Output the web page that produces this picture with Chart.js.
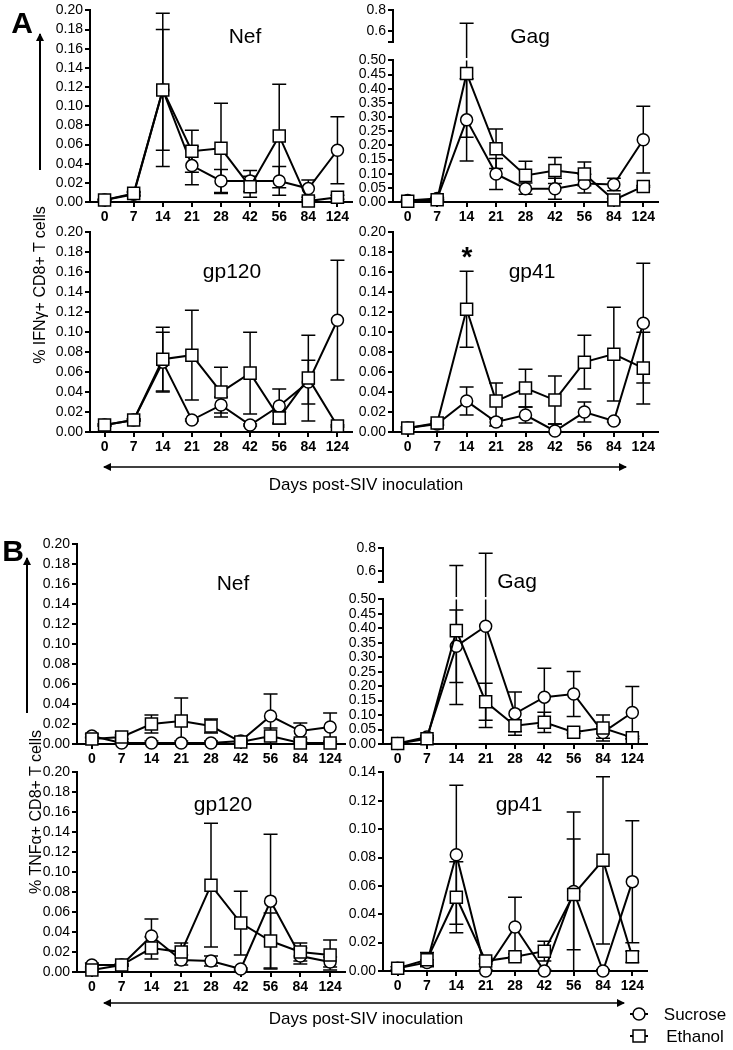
<!DOCTYPE html>
<html>
<head>
<meta charset="utf-8">
<script src="https://cdn.jsdelivr.net/npm/chart.js@4"></script>
<style>
  body { margin: 0; background: #fff; }
  #fig { position: relative; width: 733px; height: 1050px; overflow: hidden; font-family: 'Liberation Sans', Arial, sans-serif; color: #000; }
  .t { position: absolute; transform: translate(-50%, -50%); line-height: 1; white-space: nowrap; }
  .title { font-size: 21px; }
  .rot { transform: translate(-50%, -50%) rotate(-90deg); font-size: 16px; }
  svg { position: absolute; left: 0; top: 0; }
</style>
</head>
<body>
<div id="fig">
  <svg width="733" height="1050" id="marks">
    <defs>
      <marker id="head" markerWidth="8" markerHeight="8" refX="7" refY="4" orient="auto" markerUnits="userSpaceOnUse">
        <path d="M0,0 L8,4 L0,8 z" fill="#000"/>
      </marker>
    </defs>
    <!-- vertical arrows -->
    <line x1="40" y1="170" x2="40" y2="34" stroke="#000" stroke-width="2" marker-end="url(#head)"/>
    <line x1="27" y1="713" x2="27" y2="558" stroke="#000" stroke-width="2" marker-end="url(#head)"/>
    <!-- horizontal arrows -->
    <line x1="365" y1="467" x2="626" y2="467" stroke="#000" stroke-width="1.5" marker-end="url(#head)"/>
    <line x1="365" y1="467" x2="104" y2="467" stroke="#000" stroke-width="1.5" marker-end="url(#head)"/>
    <line x1="365" y1="1003" x2="624" y2="1003" stroke="#000" stroke-width="1.5" marker-end="url(#head)"/>
    <line x1="365" y1="1003" x2="104" y2="1003" stroke="#000" stroke-width="1.5" marker-end="url(#head)"/>
    <!-- legend symbols -->
    <line x1="630" y1="1014" x2="648" y2="1014" stroke="#000" stroke-width="2"/>
    <circle cx="639" cy="1014" r="6" fill="#fff" stroke="#000" stroke-width="1.5"/>
    <line x1="630" y1="1036" x2="648" y2="1036" stroke="#000" stroke-width="2"/>
    <rect x="633" y="1030" width="12" height="12" fill="#fff" stroke="#000" stroke-width="1.5"/>
  </svg>

  <div class="t" style="left:22px;top:23px;font-size:30px;font-weight:bold;">A</div>
  <div class="t" style="left:13px;top:551px;font-size:30px;font-weight:bold;">B</div>
  <div class="t rot" style="left:40px;top:285px;">% IFNγ+ CD8+ T cells</div>
  <div class="t rot" style="left:36px;top:812px;">% TNFα+ CD8+ T cells</div>

  <div class="t title" style="left:245px;top:35px;">Nef</div>
  <div class="t title" style="left:530px;top:35px;">Gag</div>
  <div class="t title" style="left:232px;top:270px;">gp120</div>
  <div class="t title" style="left:532px;top:270px;">gp41</div>
  <div class="t" style="left:467px;top:257px;font-size:28px;font-weight:bold;">*</div>
  <div class="t title" style="left:233px;top:582px;">Nef</div>
  <div class="t title" style="left:517px;top:580px;">Gag</div>
  <div class="t title" style="left:223px;top:803px;">gp120</div>
  <div class="t title" style="left:519px;top:803px;">gp41</div>

  <div class="t" style="left:366px;top:484px;font-size:17px;">Days post-SIV inoculation</div>
  <div class="t" style="left:366px;top:1018px;font-size:17px;">Days post-SIV inoculation</div>
  <div class="t" style="left:695px;top:1014px;font-size:17px;">Sucrose</div>
  <div class="t" style="left:695px;top:1036px;font-size:17px;">Ethanol</div>
</div>

<script>
// days post-SIV inoculation
const days = ['0', '7', '14', '21', '28', '42', '56', '84', '124'];

// A: IFNγ+ CD8+ T cells (mean and SEM)
const ifnNefSucrose     = [0.002, 0.008, 0.117, 0.038, 0.022, 0.022, 0.022, 0.014, 0.054];
const ifnNefSucroseErr  = [0.001, 0.002, 0.063, 0.020, 0.012, 0.011, 0.015, 0.009, 0.035];
const ifnNefEthanol     = [0.002, 0.009, 0.117, 0.053, 0.056, 0.016, 0.069, 0.001, 0.005];
const ifnNefEthanolErr  = [0.001, 0.002, 0.080, 0.022, 0.047, 0.011, 0.054, 0.001, 0.002];

const ifnGagSucrose     = [0.005, 0.012, 0.290, 0.099, 0.047, 0.047, 0.065, 0.062, 0.220];
const ifnGagSucroseErr  = [0.002, 0.004, 0.145, 0.055, 0.020, 0.037, 0.033, 0.022, 0.118];
const ifnGagEthanol     = [0.003, 0.008, 0.454, 0.188, 0.094, 0.111, 0.099, 0.007, 0.055];
const ifnGagEthanolErr  = [0.002, 0.003, 0.225, 0.070, 0.050, 0.046, 0.042, 0.005, 0.003];

const ifnGp120Sucrose    = [0.007, 0.012, 0.070, 0.012, 0.027, 0.007, 0.026, 0.050, 0.112];
const ifnGp120SucroseErr = [0.001, 0.001, 0.030, 0.001, 0.008, 0.001, 0.017, 0.022, 0.060];
const ifnGp120Ethanol    = [0.007, 0.012, 0.073, 0.077, 0.040, 0.059, 0.014, 0.054, 0.006];
const ifnGp120EthanolErr = [0.001, 0.001, 0.032, 0.045, 0.025, 0.041, 0.006, 0.043, 0.001];

const ifnGp41Sucrose    = [0.004, 0.008, 0.031, 0.010, 0.017, 0.001, 0.020, 0.011, 0.109];
const ifnGp41SucroseErr = [0.001, 0.001, 0.014, 0.004, 0.008, 0.007, 0.010, 0.001, 0.060];
const ifnGp41Ethanol    = [0.004, 0.009, 0.123, 0.031, 0.044, 0.032, 0.070, 0.078, 0.064];
const ifnGp41EthanolErr = [0.001, 0.002, 0.038, 0.018, 0.019, 0.024, 0.027, 0.047, 0.036];

// B: TNFα+ CD8+ T cells
const tnfNefSucrose     = [0.008, 0.001, 0.001, 0.001, 0.001, 0.003, 0.028, 0.013, 0.017];
const tnfNefSucroseErr  = [0.002, 0.001, 0.002, 0.002, 0.002, 0.002, 0.022, 0.008, 0.014];
const tnfNefEthanol     = [0.005, 0.007, 0.020, 0.023, 0.018, 0.002, 0.008, 0.001, 0.001];
const tnfNefEthanolErr  = [0.002, 0.002, 0.009, 0.023, 0.007, 0.001, 0.008, 0.001, 0.001];

const tnfGagSucrose     = [0.002, 0.024, 0.338, 0.407, 0.105, 0.162, 0.173, 0.040, 0.109];
const tnfGagSucroseErr  = [0.001, 0.005, 0.125, 0.350, 0.075, 0.100, 0.078, 0.020, 0.090];
const tnfGagEthanol     = [0.002, 0.018, 0.392, 0.146, 0.063, 0.075, 0.041, 0.055, 0.022];
const tnfGagEthanolErr  = [0.001, 0.004, 0.255, 0.064, 0.020, 0.035, 0.005, 0.045, 0.005];

const tnfGp120Sucrose    = [0.007, 0.007, 0.036, 0.012, 0.011, 0.003, 0.071, 0.016, 0.010];
const tnfGp120SucroseErr = [0.002, 0.001, 0.017, 0.005, 0.005, 0.001, 0.067, 0.008, 0.005];
const tnfGp120Ethanol    = [0.002, 0.007, 0.024, 0.020, 0.087, 0.049, 0.031, 0.020, 0.017];
const tnfGp120EthanolErr = [0.001, 0.001, 0.011, 0.009, 0.062, 0.032, 0.028, 0.009, 0.015];

const tnfGp41Sucrose    = [0.002, 0.006, 0.082, 0.000, 0.031, 0.000, 0.056, 0.000, 0.063];
const tnfGp41SucroseErr = [0.001, 0.002, 0.049, 0.001, 0.021, 0.001, 0.056, 0.001, 0.043];
const tnfGp41Ethanol    = [0.002, 0.008, 0.052, 0.007, 0.010, 0.014, 0.054, 0.078, 0.010];
const tnfGp41EthanolErr = [0.001, 0.005, 0.025, 0.002, 0.002, 0.007, 0.039, 0.059, 0.004];

Chart.defaults.font.family = "'Liberation Sans', Arial, sans-serif";
Chart.defaults.color = '#000';

// draws mean ± SEM bars through the chart's own scales
const errorBars = {
    id: 'errorBars',
    beforeDatasetsDraw(chart, args, opts) {
        const { ctx, chartArea: a, scales: { x, y } } = chart;
        ctx.save();
        ctx.strokeStyle = '#000';
        ctx.lineWidth = 1.5;
        chart.data.datasets.forEach(ds => {
            if (!ds.errors) return;
            ds.data.forEach((v, i) => {
                const e = ds.errors[i];
                if (!e) return;
                const hi = v + e, lo = v - e;
                if (hi < y.min || lo > y.max) return;
                const px = x.getPixelForValue(i);
                const yTop = y.getPixelForValue(Math.min(hi, y.max));
                let yBot = y.getPixelForValue(Math.max(lo, y.min));
                if (lo < y.min && opts.extendBelow) yBot = a.bottom + opts.extendBelow;
                ctx.beginPath();
                ctx.moveTo(px, yTop); ctx.lineTo(px, yBot);
                if (hi <= y.max) { ctx.moveTo(px - 7, yTop); ctx.lineTo(px + 7, yTop); }
                if (lo >= y.min) { ctx.moveTo(px - 7, yBot); ctx.lineTo(px + 7, yBot); }
                ctx.stroke();
            });
        });
        ctx.restore();
    }
};

const fig = document.getElementById('fig');

// one panel = one Chart; plot area is placed at the given page coordinates
function panel(o) {
    const YW = 52, PT = o.padTop || 10, PR = 14;
    const XH = o.showX ? 26 : 0, PB = o.gapBelow || 0;
    const w = YW + (o.right - o.left) + PR;
    const h = PT + (o.bottom - o.top) + XH + PB;
    const c = document.createElement('canvas');
    c.width = w; c.height = h;
    c.style.cssText = `position:absolute;left:${o.left - YW}px;top:${o.top - PT}px;width:${w}px;height:${h}px`;
    fig.insertBefore(c, fig.firstChild);

    const marks = !o.errorsOnly;
    const series = (data, err, style, r) => ({
        data: data,
        errors: err,
        borderColor: '#000',
        borderWidth: 2,
        showLine: marks,
        pointStyle: style,
        pointRadius: marks ? r : 0,
        pointBorderWidth: 1.5,
        pointBackgroundColor: '#fff',
        pointBorderColor: '#000',
        clip: false,
        tension: 0
    });

    new Chart(c, {
        type: 'line',
        data: {
            labels: days,
            datasets: [
                series(o.ethanol, o.ethanolErr, 'rect', 8.5),
                series(o.sucrose, o.sucroseErr, 'circle', 6)
            ]
        },
        plugins: [errorBars],
        options: {
            responsive: false,
            animation: false,
            events: [],
            layout: { autoPadding: false, padding: { top: PT, right: PR, bottom: PB, left: 0 } },
            plugins: {
                legend: { display: false },
                tooltip: { enabled: false },
                errorBars: { extendBelow: o.gapBelow || 0 }
            },
            scales: {
                x: {
                    type: 'category',
                    offset: true,
                    display: o.showX,
                    z: 1,
                    afterFit: s => { s.height = XH; },
                    border: { display: true, width: 2, color: '#000' },
                    grid: { display: true, drawOnChartArea: false, drawTicks: true, tickLength: 5, lineWidth: 2, color: '#000', offset: false },
                    ticks: { font: { size: 14, weight: 'bold' }, padding: 2, maxRotation: 0, autoSkip: false }
                },
                y: {
                    type: 'linear',
                    min: o.yMin,
                    max: o.yMax,
                    afterFit: s => { s.width = YW; },
                    afterBuildTicks: s => { s.ticks = o.ticks.map(v => ({ value: v })); },
                    border: { display: true, width: 2, color: '#000' },
                    grid: { display: true, drawOnChartArea: false, drawTicks: true, tickLength: 5, lineWidth: 2, color: '#000' },
                    ticks: {
                        font: { size: 14 },
                        padding: 2,
                        autoSkip: false,
                        callback: v => o.hideLabel && v === o.hideLabel ? '' : v.toFixed(o.digits)
                    }
                }
            }
        }
    });
}

const t20 = [0, 0.02, 0.04, 0.06, 0.08, 0.10, 0.12, 0.14, 0.16, 0.18, 0.20];
const t14 = [0, 0.02, 0.04, 0.06, 0.08, 0.10, 0.12, 0.14];
const tGag = [0, 0.05, 0.10, 0.15, 0.20, 0.25, 0.30, 0.35, 0.40, 0.45, 0.50];
const tGagTop = [0.5, 0.6, 0.8];

// --- A ---
panel({ left: 90, right: 352, top: 5, bottom: 202, yMin: 0, yMax: 0.2, ticks: t20, digits: 2, showX: true, padTop: 5,
        sucrose: ifnNefSucrose, sucroseErr: ifnNefSucroseErr, ethanol: ifnNefEthanol, ethanolErr: ifnNefEthanolErr });
panel({ left: 393, right: 658, top: 6, bottom: 42, yMin: 0.5, yMax: 0.8, ticks: tGagTop, digits: 1, hideLabel: 0.5,
        showX: false, errorsOnly: true, gapBelow: 16, padTop: 6,
        sucrose: ifnGagSucrose, sucroseErr: ifnGagSucroseErr, ethanol: ifnGagEthanol, ethanolErr: ifnGagEthanolErr });
panel({ left: 393, right: 658, top: 58, bottom: 202, yMin: 0, yMax: 0.5, ticks: tGag, digits: 2, showX: true, padTop: 8,
        sucrose: ifnGagSucrose, sucroseErr: ifnGagSucroseErr, ethanol: ifnGagEthanol, ethanolErr: ifnGagEthanolErr });
panel({ left: 90, right: 352, top: 232, bottom: 432, yMin: 0, yMax: 0.2, ticks: t20, digits: 2, showX: true,
        sucrose: ifnGp120Sucrose, sucroseErr: ifnGp120SucroseErr, ethanol: ifnGp120Ethanol, ethanolErr: ifnGp120EthanolErr });
panel({ left: 393, right: 658, top: 232, bottom: 432, yMin: 0, yMax: 0.2, ticks: t20, digits: 2, showX: true,
        sucrose: ifnGp41Sucrose, sucroseErr: ifnGp41SucroseErr, ethanol: ifnGp41Ethanol, ethanolErr: ifnGp41EthanolErr });

// --- B ---
panel({ left: 77, right: 345, top: 544, bottom: 744, yMin: 0, yMax: 0.2, ticks: t20, digits: 2, showX: true,
        sucrose: tnfNefSucrose, sucroseErr: tnfNefSucroseErr, ethanol: tnfNefEthanol, ethanolErr: tnfNefEthanolErr });
panel({ left: 383, right: 647, top: 546, bottom: 582, yMin: 0.5, yMax: 0.8, ticks: tGagTop, digits: 1, hideLabel: 0.5,
        showX: false, errorsOnly: true, gapBelow: 15, padTop: 8,
        sucrose: tnfGagSucrose, sucroseErr: tnfGagSucroseErr, ethanol: tnfGagEthanol, ethanolErr: tnfGagEthanolErr });
panel({ left: 383, right: 647, top: 597, bottom: 744, yMin: 0, yMax: 0.5, ticks: tGag, digits: 2, showX: true, padTop: 8,
        sucrose: tnfGagSucrose, sucroseErr: tnfGagSucroseErr, ethanol: tnfGagEthanol, ethanolErr: tnfGagEthanolErr });
panel({ left: 77, right: 345, top: 772, bottom: 972, yMin: 0, yMax: 0.2, ticks: t20, digits: 2, showX: true,
        sucrose: tnfGp120Sucrose, sucroseErr: tnfGp120SucroseErr, ethanol: tnfGp120Ethanol, ethanolErr: tnfGp120EthanolErr });
panel({ left: 383, right: 647, top: 772, bottom: 971, yMin: 0, yMax: 0.14, ticks: t14, digits: 2, showX: true,
        sucrose: tnfGp41Sucrose, sucroseErr: tnfGp41SucroseErr, ethanol: tnfGp41Ethanol, ethanolErr: tnfGp41EthanolErr });
</script>
</body>
</html>
